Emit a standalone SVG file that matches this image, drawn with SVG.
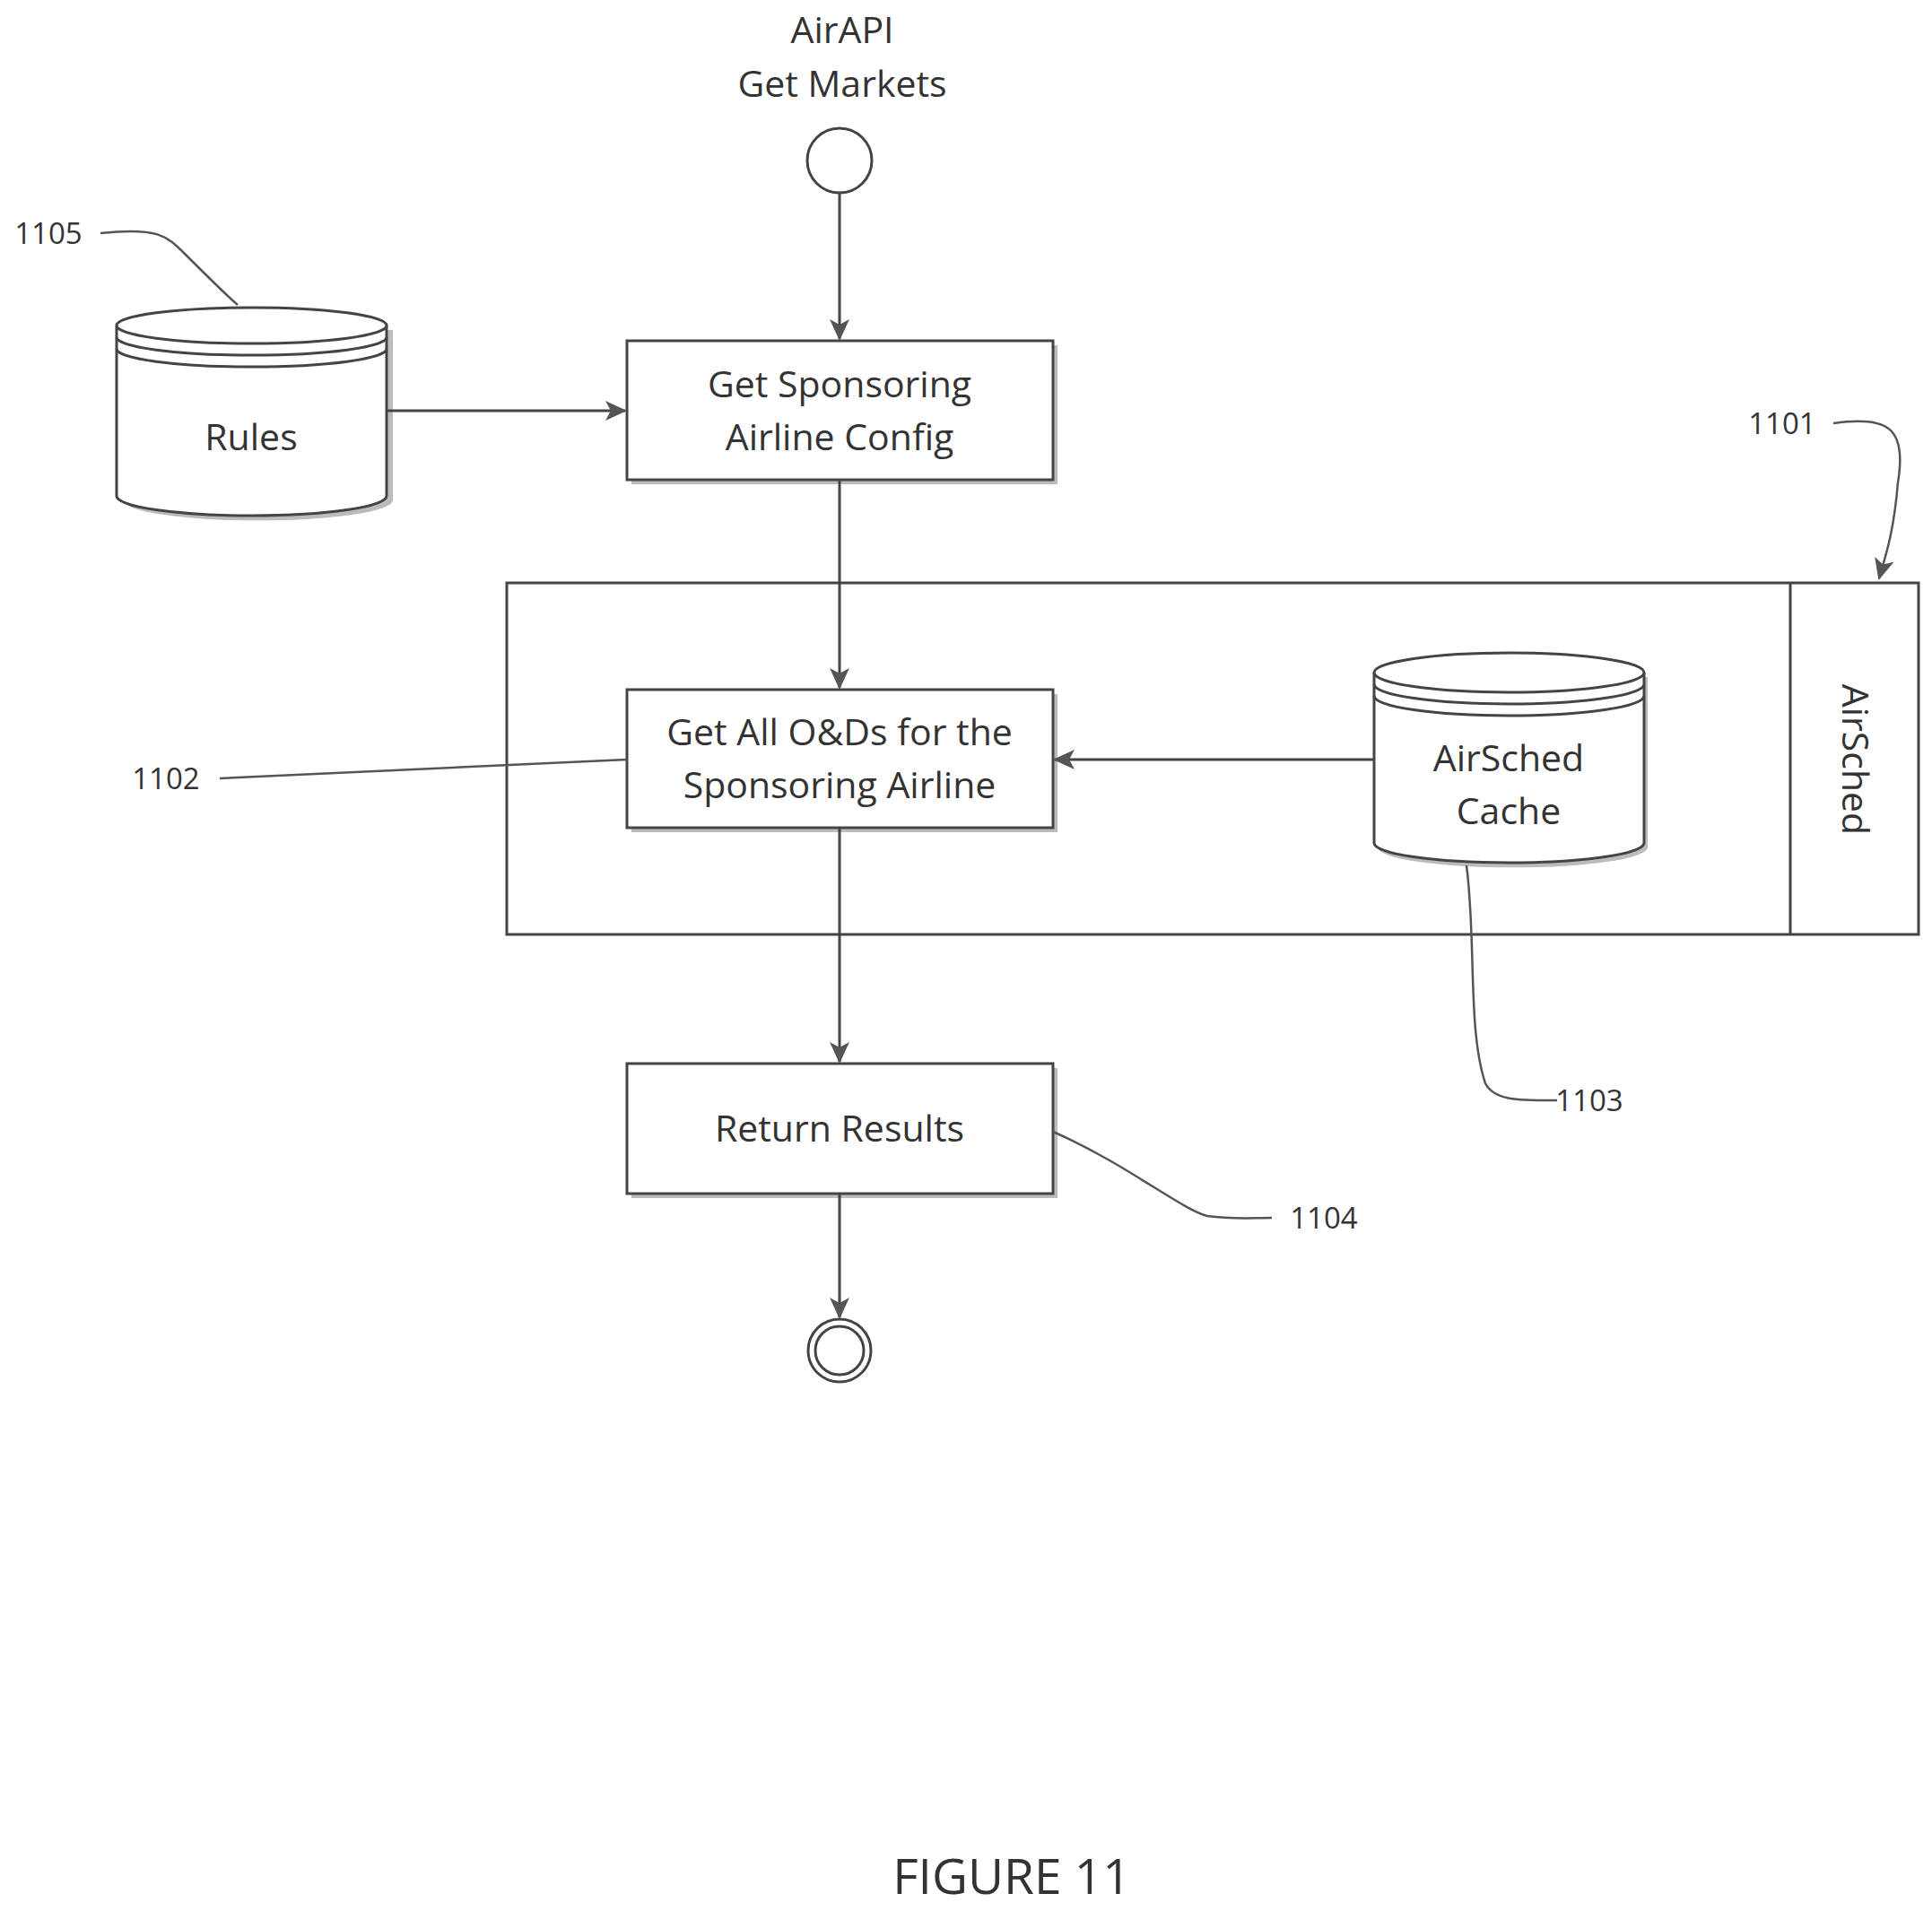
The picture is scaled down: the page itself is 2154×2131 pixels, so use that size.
<svg xmlns="http://www.w3.org/2000/svg" width="2154" height="2131" viewBox="0 0 2154 2131">
<style>
.t{font-family:"Open Sans","Liberation Sans",sans-serif;font-size:41px;fill:#333;text-anchor:middle}
.l{font-family:"Open Sans","Liberation Sans",sans-serif;font-size:33px;fill:#333;text-anchor:middle}
.b{fill:#fff;stroke:#444;stroke-width:3}
.sh{fill:#bbb}
.c{fill:none;stroke:#444;stroke-width:3}
.ld{fill:none;stroke:#555;stroke-width:2.5}
</style>
<defs>
<marker id="a" markerWidth="24" markerHeight="22" refX="22" refY="11" orient="auto" markerUnits="userSpaceOnUse" viewBox="0 0 24 22">
<path d="M0,0 L24,11 L0,22 L6,11 Z" fill="#555"/>
</marker>
</defs>
<rect width="2154" height="2131" fill="#fff"/>
<g transform="translate(-4,-2)">
<g id="lane">
<rect x="569" y="652" width="1574" height="392" class="b"/>
<line x1="2000" y1="652" x2="2000" y2="1044" class="c"/>
<text class="t" transform="translate(2058,849) rotate(90)">AirSched</text>
</g>
<g id="start">
<text class="t" x="943" y="50">AirAPI</text>
<text class="t" x="943" y="110">Get Markets</text>
<circle cx="940" cy="181" r="36" class="b"/>
</g>
<g id="rules">
<path d="M137,365 v190 a148,22 0 0 0 301,0 v-190" class="sh" transform="translate(4,5)"/>
<path d="M134,365 v190 a150,22 0 0 0 301,0 v-190" class="b"/>
<ellipse cx="284.5" cy="365" rx="150.5" ry="20" class="b"/>
<path d="M134,378 a150.5,20 0 0 0 301,0 M134,391 a150.5,20 0 0 0 301,0" class="c"/>
<text class="t" x="284" y="504">Rules</text>
</g>
<g id="box1">
<rect x="708" y="387" width="475" height="155" class="sh"/>
<rect x="703" y="382" width="475" height="155" class="b"/>
<text class="t" x="940" y="445">Get Sponsoring</text>
<text class="t" x="940" y="504">Airline Config</text>
</g>
<g id="box2">
<rect x="708" y="776" width="475" height="154" class="sh"/>
<rect x="703" y="771" width="475" height="154" class="b"/>
<text class="t" x="940" y="833">Get All O&amp;Ds for the</text>
<text class="t" x="940" y="892">Sponsoring Airline</text>
</g>
<g id="cache">
<path d="M1540,752 v190 a148,22 0 0 0 301,0 v-190" class="sh" transform="translate(0,5)"/>
<path d="M1536,752 v190 a150,22 0 0 0 301,0 v-190" class="b"/>
<ellipse cx="1686.5" cy="752" rx="150.5" ry="22" class="b"/>
<path d="M1536,765 a150.5,22 0 0 0 301,0 M1536,778 a150.5,22 0 0 0 301,0" class="c"/>
<text class="t" x="1686" y="862">AirSched</text>
<text class="t" x="1686" y="921">Cache</text>
</g>
<g id="box3">
<rect x="708" y="1193" width="475" height="145" class="sh"/>
<rect x="703" y="1188" width="475" height="145" class="b"/>
<text class="t" x="940" y="1275">Return Results</text>
</g>
<g id="end">
<circle cx="940" cy="1508" r="35" class="b" stroke-width="5"/>
<circle cx="940" cy="1508" r="27" class="c"/>
</g>
<g id="connectors">
<line x1="940" y1="217" x2="940" y2="380" class="c" marker-end="url(#a)"/>
<line x1="435" y1="460" x2="701" y2="460" class="c" marker-end="url(#a)"/>
<line x1="940" y1="537" x2="940" y2="769" class="c" marker-end="url(#a)"/>
<line x1="1536" y1="849" x2="1180" y2="849" class="c" marker-end="url(#a)"/>
<line x1="940" y1="925" x2="940" y2="1186" class="c" marker-end="url(#a)"/>
<line x1="940" y1="1333" x2="940" y2="1471" class="c" marker-end="url(#a)"/>
</g>
<g id="labels">
<text class="l" x="58" y="274">1105</text>
<path d="M116,262 C180,255 190,265 210,285 C240,315 255,330 269,342" class="ld"/>
<text class="l" x="1991" y="486">1101</text>
<path d="M2048,474 C2110,465 2130,480 2120,540 C2115,600 2105,625 2099,647" class="ld" marker-end="url(#a)"/>
<text class="l" x="189" y="882">1102</text>
<path d="M249,870 L703,849" class="ld"/>
<text class="l" x="1776" y="1241">1103</text>
<path d="M1639,967 C1650,1050 1640,1150 1660,1210 C1670,1230 1700,1229 1740,1229" class="ld"/>
<text class="l" x="1480" y="1372">1104</text>
<path d="M1178,1264 C1260,1300 1320,1350 1350,1358 C1380,1362 1400,1360 1422,1360" class="ld"/>
</g>
<text class="t" x="1132" y="2114" style="font-size:55px">FIGURE 11</text>
</g>
</svg>
